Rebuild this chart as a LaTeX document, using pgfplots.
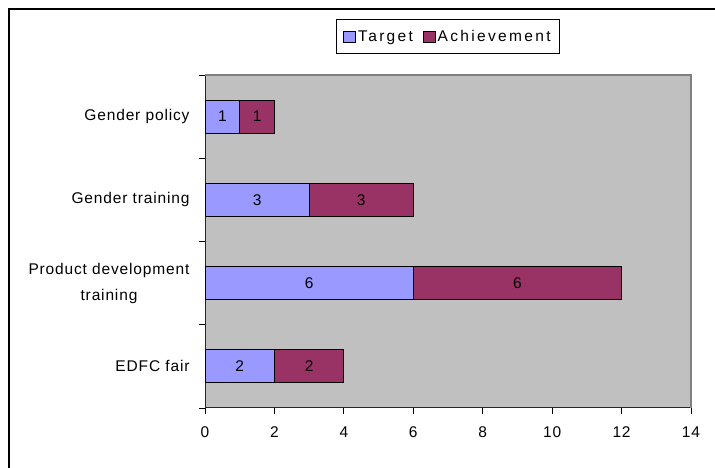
\documentclass[border=0pt]{standalone}
\usepackage{fontspec}
\setmainfont{Liberation Sans}[LetterSpace=5.5]
\newfontfamily\legfont{Liberation Sans}[LetterSpace=15]
\usepackage{pgfplots}
\pgfplotsset{compat=1.18}
\definecolor{tgt}{HTML}{9999FF}
\definecolor{ach}{HTML}{993366}
\definecolor{plotbg}{HTML}{C0C0C0}
\definecolor{bordergray}{HTML}{808080}
\newcommand\ff{\fontsize{15.5bp}{18bp}\selectfont}
\newcommand\lf{\legfont\fontsize{15.5bp}{18bp}\selectfont}
\begin{document}
\begin{tikzpicture}[x=1bp,y=1bp]
\useasboundingbox (0,0) rectangle (715,468);
\draw[line width=2.2bp] (9,0) -- (9,459.3) -- (715,459.3);
\begin{axis}[
  at={(205bp,60bp)}, anchor=south west,
  width=486bp, height=333bp, scale only axis,
  xbar stacked, bar width=33bp,
  xmin=0, xmax=14, ymin=-0.5, ymax=3.5,
  axis x line*=bottom, axis y line*=left,
  axis background/.style={fill=plotbg},
  after end axis/.code={\draw[bordergray, line width=1.2bp] (rel axis cs:0,1) -- (rel axis cs:1,1) -- (rel axis cs:1,0);},
  axis line style={line width=1bp, black!85},
  /pgf/number format/assume math mode=true,
  tick label style={font=\ff},
  xtick={0,2,...,14},
  ytick={0,1,2,3},
  yticklabels={EDFC fair, {Product development\\[8bp]training}, Gender training, Gender policy},
  yticklabel style={align=center, xshift=-6bp},
  xticklabel style={yshift=-9bp},
  minor ytick={-0.5,0.5,1.5,2.5,3.5},
  tick align=outside,
  major tick length=6bp, minor tick length=6bp,
  every major y tick/.style={draw=none},
  tick style={black, line width=0.8bp},
  legend columns=2,
  legend style={at={(0.5,1)}, anchor=center, yshift=38.5bp, draw=black, line width=0.8bp,
    font=\lf, inner xsep=7bp, inner ysep=9bp,
    /tikz/every even column/.append style={column sep=8bp}},
  legend image code/.code={\draw[#1, draw=black, line width=0.8bp] (0bp,-5.5bp) rectangle (12bp,5.5bp);},
  clip=false,
]
\addplot[fill=tgt, draw=black, line width=0.9bp] coordinates {(2,0) (6,1) (3,2) (1,3)};
\addplot[fill=ach, draw=black, line width=0.9bp] coordinates {(2,0) (6,1) (3,2) (1,3)};
\legend{Target, Achievement}
\end{axis}
\begin{axis}[
  at={(205bp,60bp)}, anchor=south west,
  width=486bp, height=333bp, scale only axis,
  xmin=0, xmax=14, ymin=-0.5, ymax=3.5,
  hide axis, clip=false,
]
\addplot[only marks, mark=none, nodes near coords, point meta=explicit symbolic,
  every node near coord/.style={anchor=center, text=black, font=\ff}]
  coordinates {(1,0)[2] (3,0)[2] (3,1)[6] (9,1)[6] (1.5,2)[3] (4.5,2)[3] (0.5,3)[1] (1.5,3)[1]};
\end{axis}
\end{tikzpicture}
\end{document}
